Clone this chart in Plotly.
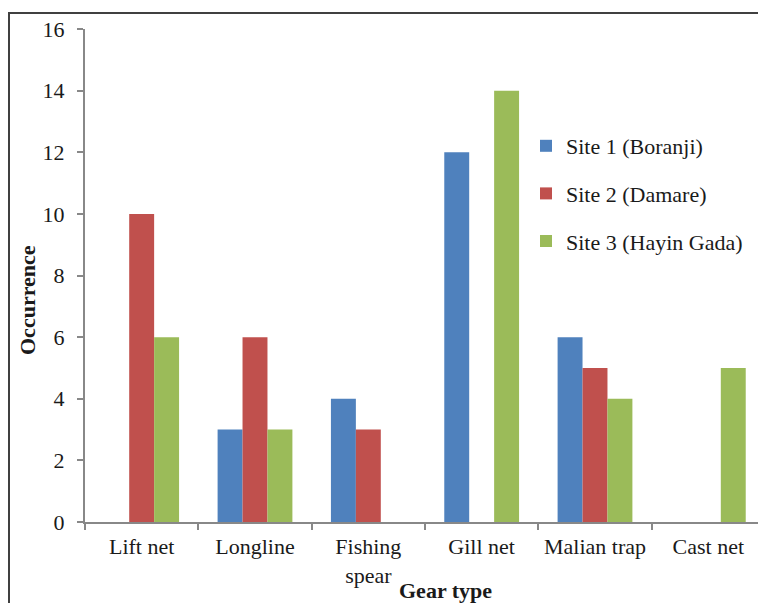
import plotly.graph_objects as go

categories = ["Lift net", "Longline", "Fishing<br>spear", "Gill net", "Malian trap", "Cast net"]
site1 = [0, 3, 4, 12, 6, 0]
site2 = [10, 6, 3, 0, 5, 0]
site3 = [6, 3, 0, 14, 4, 5]
series_names = ["Site 1 (Boranji)", "Site 2 (Damare)", "Site 3 (Hayin Gada)"]
colors = ["#4F81BD", "#C0504D", "#9BBB59"]
yticks = [0, 2, 4, 6, 8, 10, 12, 14, 16]

FONT = "Liberation Serif"
FS = 22
OFF = 8  # page body margin
W, H = 766, 603
# plot area in screen pixels
X0, X1, Y0, Y1 = 85, 765, 29, 522
L, T = X0 - OFF, Y0 - OFF
R, B = W - (X1 - OFF), H - (Y1 - OFF)
pw, ph = X1 - X0, Y1 - Y0

fig = go.Figure()
for i, (name, vals) in enumerate(zip(series_names, [site1, site2, site3])):
    fig.add_trace(go.Bar(
        x=categories, y=vals, name=name,
        marker=dict(color=colors[i], line=dict(width=0)),
        legendgroup=str(i),
    ))

def sx(x):
    return (x - X0) / pw

def sy(y):
    return 1 - (y - Y0) / ph

fig.update_layout(
    width=W, height=H,
    margin=dict(l=L, r=R, t=T, b=B, autoexpand=False),
    paper_bgcolor="white", plot_bgcolor="white",
    barmode="group", bargap=0.34, bargroupgap=0,
    font=dict(family=FONT, size=FS, color="#1a1a1a"),
    showlegend=True,
    legend=dict(
        x=sx(526), y=sy(125), xanchor="left", yanchor="top",
        font=dict(family=FONT, size=FS, color="#1a1a1a"),
        tracegroupgap=16, traceorder="grouped",
        bgcolor="rgba(0,0,0,0)", itemwidth=30,
    ),
    xaxis=dict(
        type="category", showline=True, linecolor="#888888", linewidth=2,
        ticks="outside", tickson="boundaries", ticklen=6, tickcolor="#888888", tickwidth=2,
        showgrid=False, tickfont=dict(family=FONT, size=FS, color="#1a1a1a"),
        range=[-0.5, 5.5], automargin=False, ticklabelstandoff=4,
    ),
    yaxis=dict(
        range=[0, 16], tickvals=yticks, showline=True, linecolor="#888888", linewidth=2,
        ticks="outside", ticklen=6, tickcolor="#888888", tickwidth=2,
        showgrid=False, zeroline=False, tickfont=dict(family=FONT, size=FS, color="#1a1a1a"),
        automargin=False, ticklabelstandoff=8,
    ),
    annotations=[
        dict(text="<b>Occurrence</b>", xref="paper", yref="paper",
             x=sx(27), y=sy(300), textangle=-90, showarrow=False,
             xanchor="center", yanchor="middle",
             font=dict(family=FONT, size=FS, color="#1a1a1a")),
        dict(text="<b>Gear type</b>", xref="paper", yref="paper",
             x=sx(445), y=sy(590), showarrow=False,
             xanchor="center", yanchor="middle",
             font=dict(family=FONT, size=FS, color="#1a1a1a")),
    ],
    shapes=[
        dict(type="rect", xref="paper", yref="paper",
             x0=sx(9), x1=sx(790), y0=sy(640), y1=sy(13),
             line=dict(color="#404040", width=2), fillcolor="rgba(0,0,0,0)", layer="below"),
    ],
)

fig.write_html("out.html")
